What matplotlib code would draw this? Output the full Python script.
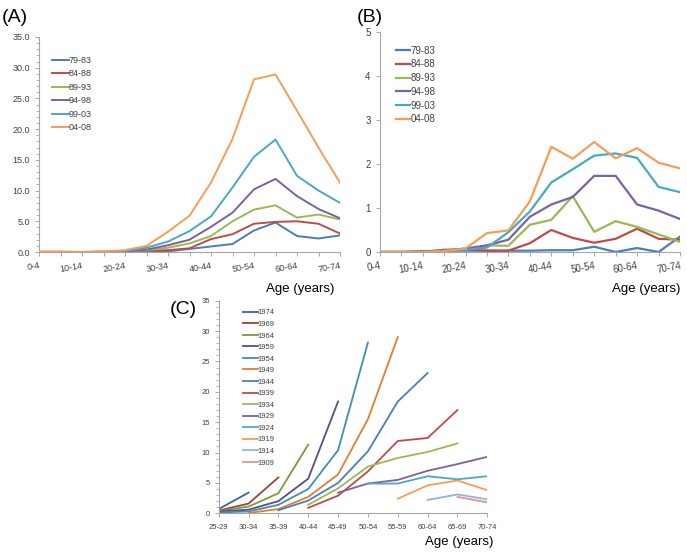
import matplotlib
matplotlib.use("Agg")
import matplotlib.pyplot as plt
from matplotlib import font_manager

names = {f.name for f in font_manager.fontManager.ttflist}
NARROW = "Liberation Sans Narrow" if "Liberation Sans Narrow" in names else "Liberation Sans"
plt.rcParams["font.family"] = ["Liberation Sans", "DejaVu Sans"]

# ---------------- data ----------------
age_groups = ["0-4", "5-9", "10-14", "15-19", "20-24", "25-29", "30-34", "35-39",
              "40-44", "45-49", "50-54", "55-59", "60-64", "65-69", "70-74"]
periods = ["79-83", "84-88", "89-93", "94-98", "99-03", "04-08"]

# Panel A
a_7983 = [0.0, 0.0, 0.0, 0.0, 0.0, 0.1, 0.1, 0.5, 0.9, 1.3, 3.5, 4.8, 2.6, 2.2, 2.7]
a_8488 = [0.0, 0.0, 0.0, 0.0, 0.05, 0.2, 0.3, 0.6, 2.1, 2.9, 4.6, 4.9, 5.0, 4.6, 3.0]
a_8993 = [0.0, 0.0, 0.0, 0.0, 0.1, 0.3, 0.7, 1.4, 2.6, 5.0, 6.9, 7.6, 5.6, 6.1, 5.3]
a_9498 = [0.0, 0.0, 0.0, 0.05, 0.1, 0.4, 1.1, 2.0, 4.1, 6.4, 10.2, 11.9, 9.1, 7.0, 5.5]
a_9903 = [0.0, 0.0, 0.0, 0.05, 0.15, 0.7, 1.7, 3.4, 5.8, 10.5, 15.5, 18.3, 12.4, 10.0, 8.0]
a_0408 = [0.1, 0.1, 0.0, 0.1, 0.3, 1.0, 3.3, 5.9, 11.3, 18.4, 28.1, 28.9, 23.0, 17.0, 11.3]

# Panel B
b_7983 = [0.0, 0.0, 0.02, 0.03, 0.03, 0.03, 0.03, 0.03, 0.04, 0.04, 0.12, 0.0, 0.09, 0.0, 0.35]
b_8488 = [0.0, 0.0, 0.0, 0.05, 0.06, 0.03, 0.03, 0.20, 0.50, 0.32, 0.21, 0.30, 0.53, 0.30, 0.28]
b_8993 = [0.0, 0.0, 0.0, 0.02, 0.05, 0.15, 0.14, 0.62, 0.73, 1.27, 0.46, 0.70, 0.57, 0.40, 0.23]
b_9498 = [0.0, 0.0, 0.0, 0.03, 0.08, 0.15, 0.28, 0.80, 1.08, 1.25, 1.73, 1.73, 1.08, 0.94, 0.75]
b_9903 = [0.0, 0.0, 0.0, 0.03, 0.05, 0.10, 0.45, 0.92, 1.58, 1.88, 2.19, 2.24, 2.14, 1.48, 1.36]
b_0408 = [0.0, 0.0, 0.0, 0.02, 0.08, 0.43, 0.49, 1.15, 2.39, 2.12, 2.50, 2.13, 2.36, 2.03, 1.90]

# Panel C (birth cohorts); None = no data
c_ages = ["25-29", "30-34", "35-39", "40-44", "45-49", "50-54", "55-59", "60-64", "65-69", "70-74"]
cohorts = ["1974", "1969", "1964", "1959", "1954", "1949", "1944", "1939",
           "1934", "1929", "1924", "1919", "1914", "1909"]
c_1974 = [0.7, 3.4, None, None, None, None, None, None, None, None]
c_1969 = [0.45, 1.6, 5.9, None, None, None, None, None, None, None]
c_1964 = [0.4, 1.1, 3.3, 11.3, None, None, None, None, None, None]
c_1959 = [0.3, 0.6, 2.0, 5.7, 18.4, None, None, None, None, None]
c_1954 = [0.15, 0.3, 1.4, 4.0, 10.4, 28.1, None, None, None, None]
c_1949 = [None, 0.05, 0.7, 2.7, 6.4, 15.5, 29.0, None, None, None]
c_1944 = [None, None, 0.5, 2.1, 5.0, 10.2, 18.4, 23.1, None, None]
c_1939 = [None, None, None, 0.9, 2.9, 6.9, 11.9, 12.4, 17.0, None]
c_1934 = [None, None, None, 1.4, 4.1, 7.7, 9.1, 10.1, 11.5, None]
c_1929 = [None, None, None, None, 3.4, 4.9, 5.5, 7.0, 8.1, 9.3]
c_1924 = [None, None, None, None, None, 4.9, 4.9, 6.1, 5.6, 6.1]
c_1919 = [None, None, None, None, None, None, 2.4, 4.6, 5.4, 3.8]
c_1914 = [None, None, None, None, None, None, None, 2.2, 3.1, 2.3]
c_1909 = [None, None, None, None, None, None, None, None, 2.7, 1.8]

# ---------------- style ----------------
period_colors = ["#4A7EBB", "#BE4B48", "#98B954", "#7D60A0", "#46AAC5", "#F59D56"]
cohort_colors = ["#3A6598", "#A53F3C", "#7B9A3D", "#5E4A88", "#3B93AB", "#E07E2E",
                 "#4A7EBB", "#BE4B48", "#98B954", "#7D60A0", "#46AAC5", "#F59D56",
                 "#95B3D7", "#D99694"]
AX_GREY = "#A6A6A6"
TXT = "#404040"


def style_axes(ax):
    for s in ("top", "right"):
        ax.spines[s].set_visible(False)
    for s in ("left", "bottom"):
        ax.spines[s].set_color(AX_GREY)
        ax.spines[s].set_linewidth(0.8)
    ax.tick_params(colors=AX_GREY, labelcolor=TXT, length=3, width=0.7)
    ax.tick_params(which="minor", colors=AX_GREY, length=2, width=0.6)


fig = plt.figure(figsize=(6.87, 5.52), dpi=100)
W, H = 687.0, 552.0


def axes_px(x0, x1, ytop, ybot):
    return fig.add_axes([x0 / W, 1 - ybot / H, (x1 - x0) / W, (ybot - ytop) / H])


x15 = list(range(len(age_groups)))
xlabels = [g if i % 2 == 0 else "" for i, g in enumerate(age_groups)]

# ---------- Panel A ----------
axA = axes_px(39, 340, 37, 252)
for vals, lab, col in zip([a_7983, a_8488, a_8993, a_9498, a_9903, a_0408], periods, period_colors):
    axA.plot(x15, vals, color=col, lw=1.4, label=lab)
axA.set_xlim(0, 14)
axA.set_ylim(0, 35)
axA.set_yticks(range(0, 36, 5))
axA.set_yticklabels([f"{v:.1f}" for v in range(0, 36, 5)], fontsize=6.5)
axA.set_yticks(range(0, 36, 1), minor=True)
axA.set_xticks(x15)
axA.set_xticklabels(xlabels, fontsize=6.5, rotation=10, ha="right", rotation_mode="anchor")
style_axes(axA)
axA.legend(loc="upper left", bbox_to_anchor=(0.03, 0.93), frameon=False, fontsize=6.5,
           handlelength=1.9, handletextpad=0.0, labelspacing=0.5, borderaxespad=0,
           labelcolor=TXT)
fig.text(2 / W, 1 - 17 / H, "(A)", fontsize=14, va="center", ha="left")
fig.text(334 / W, 1 - 289 / H, "Age (years)", fontsize=9.5, va="center", ha="right")

# ---------- Panel B ----------
axB = axes_px(379.7, 680, 32, 252)
for vals, lab, col in zip([b_7983, b_8488, b_8993, b_9498, b_9903, b_0408], periods, period_colors):
    axB.plot(x15, vals, color=col, lw=1.6, label=lab)
axB.set_xlim(0, 14)
axB.set_ylim(0, 5)
axB.set_yticks(range(0, 6))
axB.set_yticklabels([str(v) for v in range(0, 6)], fontsize=7)
axB.set_xticks(x15)
axB.set_xticklabels(xlabels, fontsize=7, rotation=10, ha="right", rotation_mode="anchor")
style_axes(axB)
axB.legend(loc="upper left", bbox_to_anchor=(0.04, 0.955), frameon=False, fontsize=7,
           handlelength=1.5, handletextpad=0.0, labelspacing=0.38, borderaxespad=0,
           labelcolor=TXT)
fig.text(357 / W, 1 - 17 / H, "(B)", fontsize=14, va="center", ha="left")
fig.text(680 / W, 1 - 289 / H, "Age (years)", fontsize=9.5, va="center", ha="right")

# ---------- Panel C ----------
axC = axes_px(218.7, 487.3, 300.7, 513.3)
c_series = [c_1974, c_1969, c_1964, c_1959, c_1954, c_1949, c_1944, c_1939,
            c_1934, c_1929, c_1924, c_1919, c_1914, c_1909]
for vals, lab, col in zip(c_series, cohorts, cohort_colors):
    xs = [i for i, v in enumerate(vals) if v is not None]
    ys = [v for v in vals if v is not None]
    axC.plot(xs, ys, color=col, lw=1.3, label=lab)
axC.set_xlim(0, 9)
axC.set_ylim(0, 35)
axC.set_yticks(range(0, 36, 5))
axC.set_yticklabels([str(v) for v in range(0, 36, 5)], fontsize=5.5, family=NARROW)
axC.set_yticks(range(0, 36, 1), minor=True)
axC.set_xticks(range(len(c_ages)))
axC.set_xticklabels(c_ages, fontsize=5.5, family=NARROW)
style_axes(axC)
axC.tick_params(axis="x", pad=5)
axC.legend(loc="upper left", bbox_to_anchor=(0.08, 0.975), frameon=False,
           handlelength=1.9, handletextpad=0.0, labelspacing=0.55, borderaxespad=0,
           labelcolor=TXT, prop={"family": NARROW, "size": 5.5})
fig.text(170 / W, 1 - 309 / H, "(C)", fontsize=14, va="center", ha="left")
fig.text(493 / W, 1 - 542 / H, "Age (years)", fontsize=9.5, va="center", ha="right")

fig.savefig("out.png", dpi=100)
